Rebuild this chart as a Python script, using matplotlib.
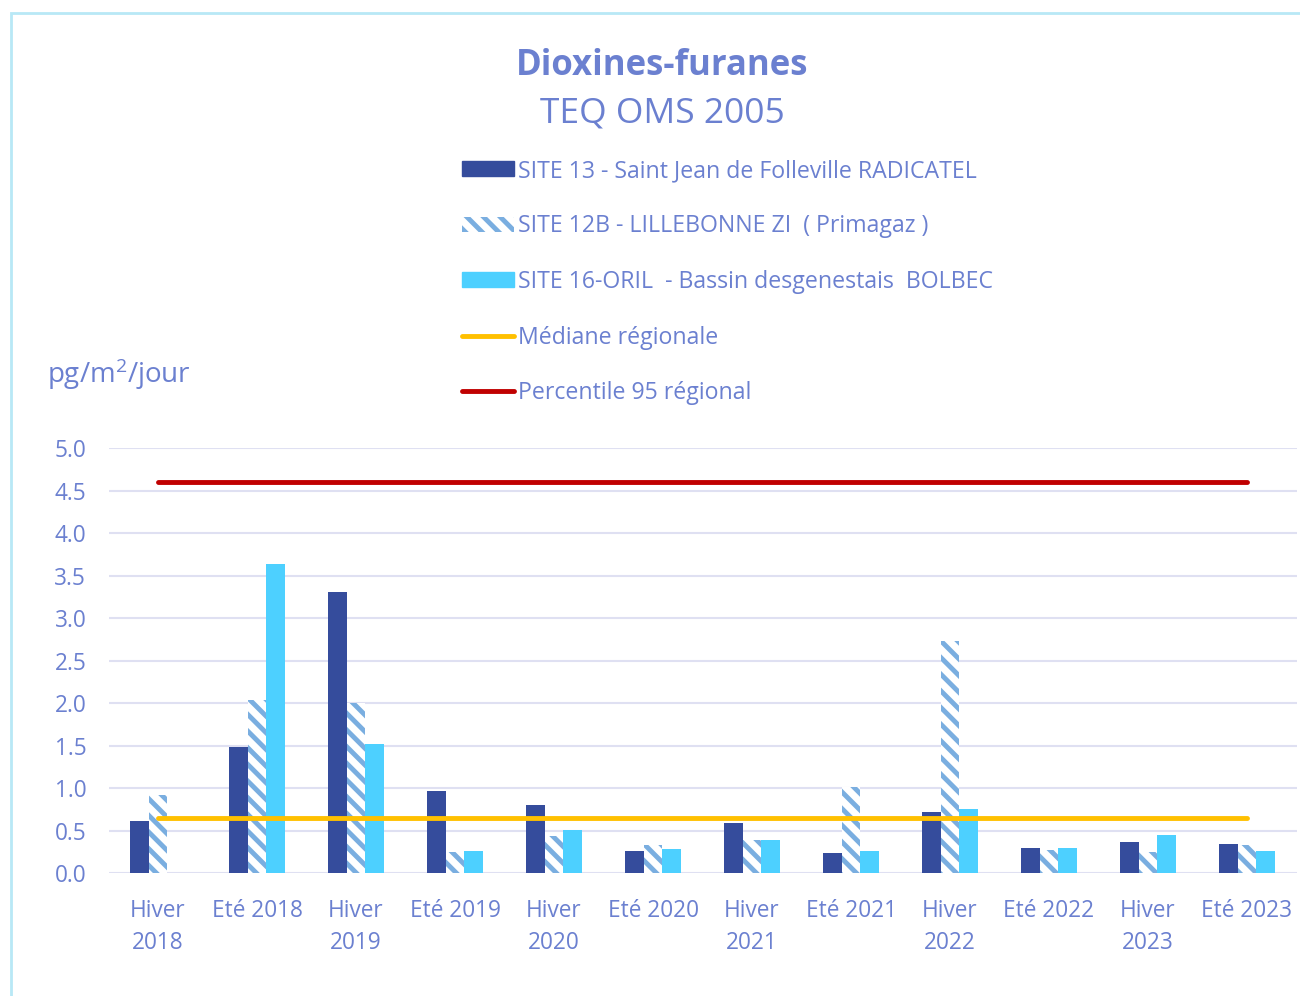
import numpy as np
import matplotlib
matplotlib.use("Agg")
import matplotlib.pyplot as plt
from matplotlib.patches import Patch, Rectangle
from matplotlib.lines import Line2D

plt.rcParams['font.family'] = ['Open Sans', 'DejaVu Sans']
plt.rcParams['mathtext.default'] = 'regular'
plt.rcParams['hatch.linewidth'] = 3.5

# Data
categories = ["Hiver\n2018", "Eté 2018", "Hiver\n2019", "Eté 2019", "Hiver\n2020", "Eté 2020",
              "Hiver\n2021", "Eté 2021", "Hiver\n2022", "Eté 2022", "Hiver\n2023", "Eté 2023"]
site13 = [0.61, 1.48, 3.31, 0.97, 0.80, 0.26, 0.59, 0.24, 0.72, 0.29, 0.37, 0.34]
site12b = [0.92, 2.04, 2.00, 0.25, 0.43, 0.33, 0.39, 1.01, 2.73, 0.27, 0.25, 0.33]
site16 = [np.nan, 3.64, 1.52, 0.26, 0.51, 0.28, 0.39, 0.26, 0.75, 0.30, 0.45, 0.26]
mediane = 0.65
p95 = 4.6

labels = ["SITE 13 - Saint Jean de Folleville RADICATEL",
          "SITE 12B - LILLEBONNE ZI  ( Primagaz )",
          "SITE 16-ORIL  - Bassin desgenestais  BOLBEC",
          "Médiane régionale",
          "Percentile 95 régional"]

TXT = '#6b80d0'
C13 = '#354c9c'
C12 = '#7aaee0'
C16 = '#4dd0ff'

fig = plt.figure(figsize=(13, 9.96), dpi=100)
ax = fig.add_axes([108.5 / 1300, 123 / 996, 1188 / 1300, 425 / 996])

x = np.arange(len(categories))
w = 0.19
ax.bar(x - w, site13, w, color=C13, zorder=3)
ax.bar(x, site12b, w, facecolor='white', edgecolor=C12, hatch='\\\\', linewidth=0, zorder=3)
ax.bar(x + w, site16, w, color=C16, zorder=3)

# regional reference lines, from first to last category
ax.plot([x[0], x[-1]], [mediane, mediane], color='#ffc000', lw=3.5, solid_capstyle='round', zorder=4)
ax.plot([x[0], x[-1]], [p95, p95], color='#c00000', lw=3.5, solid_capstyle='round', zorder=4)

ax.set_xlim(-0.5, len(categories) - 0.5)
ax.set_ylim(0, 5)
ax.set_yticks(np.arange(0, 5.01, 0.5))
ax.set_yticklabels([f"{v:.1f}" for v in np.arange(0, 5.01, 0.5)])
ax.set_xticks(x)
ax.set_xticklabels(categories)
ax.tick_params(axis='both', length=0, colors=TXT, labelsize=16.3)
ax.tick_params(axis='x', pad=18.5)
ax.tick_params(axis='y', pad=16)
for lab in ax.get_xticklabels():
    lab.set_linespacing(1.45)
ax.grid(axis='y', color='#dfe0f2', lw=1.5, zorder=0)
for s in ax.spines.values():
    s.set_visible(False)

fig.text(662 / 1300, 1 - 66 / 996, "Dioxines-furanes", ha='center', va='center',
         fontsize=25, fontweight='bold', color=TXT)
fig.text(662 / 1300, 1 - 114 / 996, "TEQ OMS 2005", ha='center', va='center',
         fontsize=25.5, color=TXT)
fig.text(47 / 1300, 1 - 374 / 996, "pg/m$^2$/jour", ha='left', va='center',
         fontsize=20, color=TXT)

handles = [Patch(facecolor=C13, edgecolor=C13),
           Patch(facecolor='white', edgecolor=C12, hatch='\\\\', linewidth=0),
           Patch(facecolor=C16, edgecolor=C16),
           Line2D([0], [0], color='#ffc000', lw=3.5, solid_capstyle='round'),
           Line2D([0], [0], color='#c00000', lw=3.5, solid_capstyle='round')]
fig.legend(handles, labels, loc='upper left', bbox_to_anchor=(441 / 1300, 1 - 138 / 996),
           frameon=False, fontsize=16.7, labelcolor=TXT, handlelength=2.24,
           handleheight=0.6, handletextpad=0.2, labelspacing=1.36)

# light frame around the chart area
fig.add_artist(Rectangle((11 / 1300, -0.1), 1.2, 1 - 13 / 996 + 0.1, transform=fig.transFigure,
                         fill=False, edgecolor='#b8e8f6', lw=2))

fig.savefig("out.png", dpi=100)
